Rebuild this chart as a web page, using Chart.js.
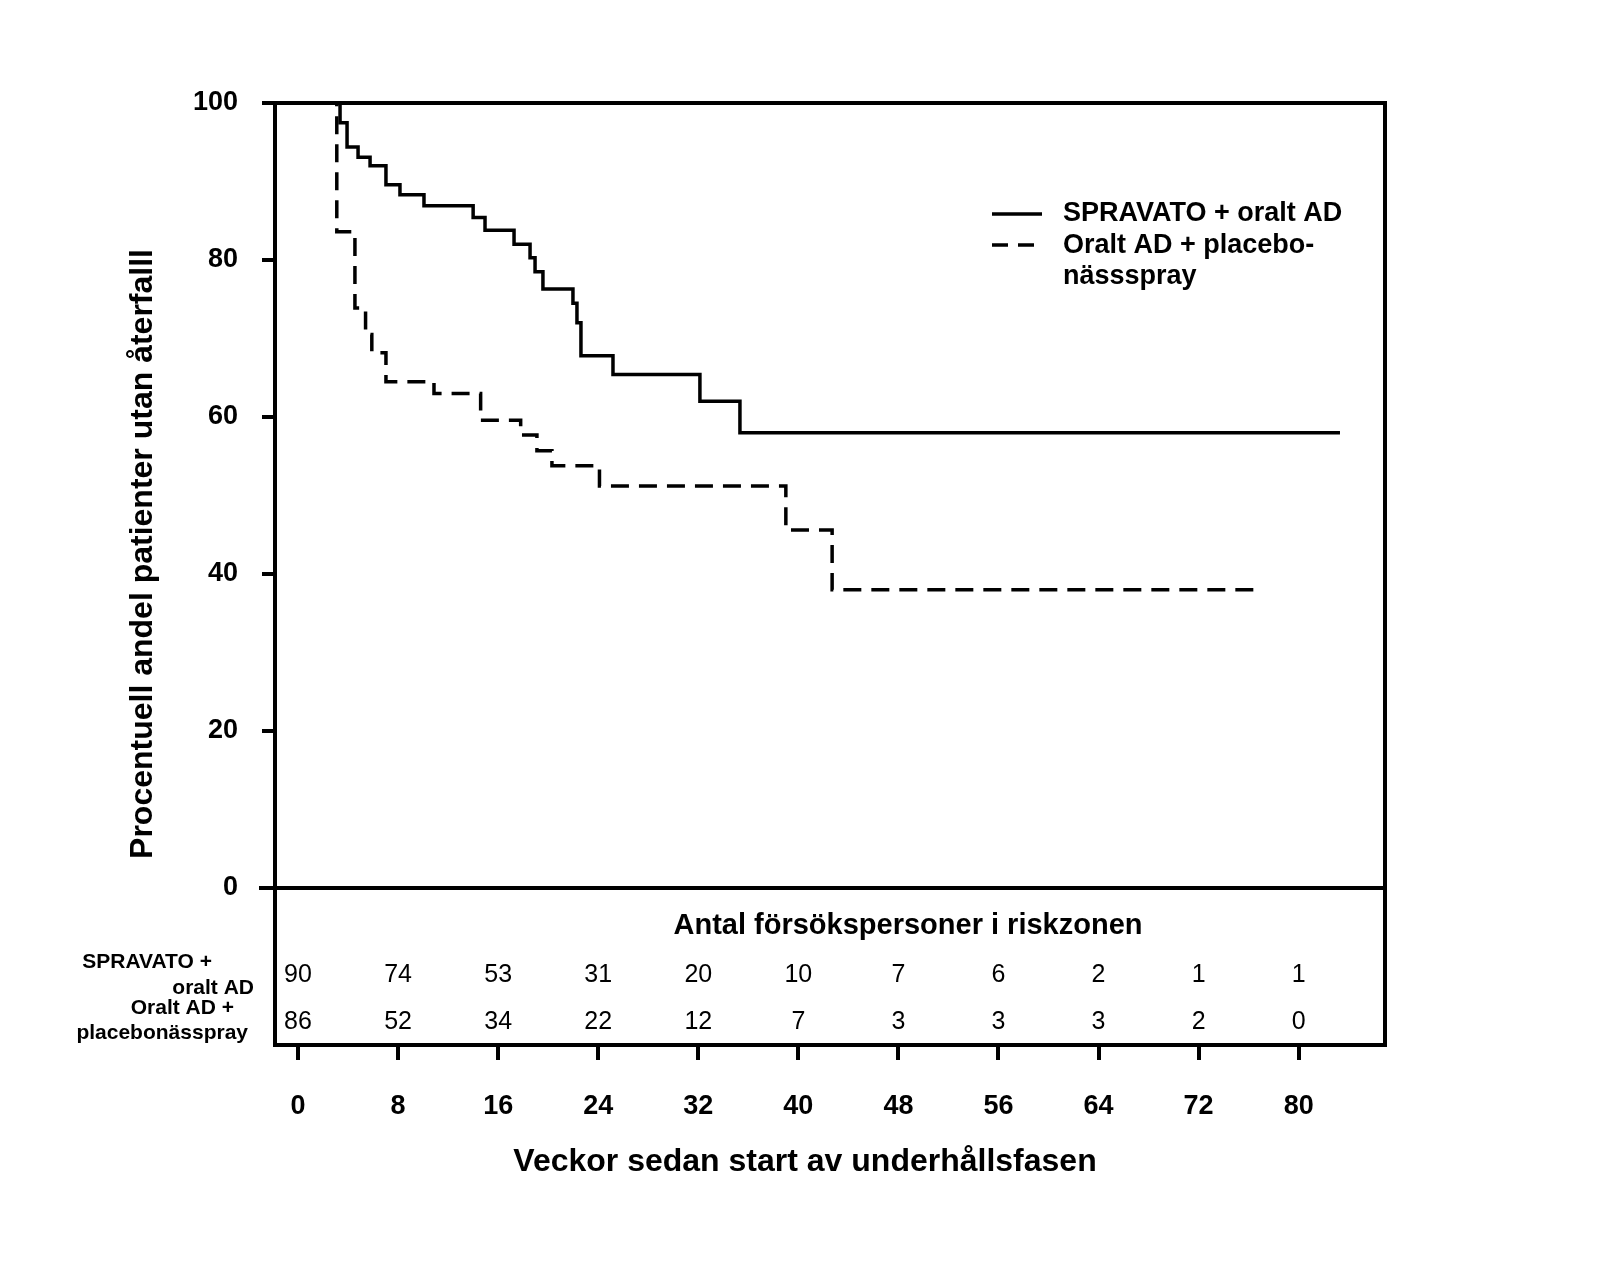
<!DOCTYPE html>
<html><head><meta charset="utf-8">
<script src="https://cdn.jsdelivr.net/npm/chart.js@4"></script>
<style>body{margin:0;background:#fff}</style></head>
<body><canvas id="c" width="1606" height="1268"></canvas>
<script>
const spravatoWeeks = [2.96,3.36,3.92,4.8,5.76,7.03,8.15,10.07,14.0,14.95,17.27,18.55,18.95,19.58,21.98,22.3,22.62,25.18,32.13,35.33,83.3];
const spravatoSurv  = [100,97.5,94.4,93.1,92,89.6,88.3,86.9,85.4,83.8,82,80.3,78.5,76.3,74.5,72,67.8,65.4,62,58,58];
const placeboWeeks = [1.92,3.1,4.55,5.4,5.9,7.03,10.87,14.6,17.8,19.1,20.3,24.1,39.0,42.7,76.5];
const placeboSurv  = [100,83.6,73.9,70.5,68.2,64.5,63,59.6,57.7,55.7,53.8,51.2,45.6,38,38];
const riskWeeks = [0,8,16,24,32,40,48,56,64,72,80];
const riskSpravato = [90,74,53,31,20,10,7,6,2,1,1];
const riskPlacebo = [86,52,34,22,12,7,3,3,3,2,0];
const yTicks = [0,20,40,60,80,100];
const F = '"Liberation Sans", Arial, sans-serif';
const pts = (xs,ys)=>xs.map((x,i)=>({x,y:ys[i]}));
const deco = {id:'deco', afterDraw(ch){
  const c=ch.ctx, a=ch.chartArea, xs=ch.scales.x, ys=ch.scales.y;
  c.save(); c.strokeStyle='#000'; c.lineWidth=4;
  c.strokeRect(a.left,a.top,a.right-a.left,a.bottom-a.top);
  const y0=ys.getPixelForValue(0);
  c.beginPath(); c.moveTo(a.left-16,y0); c.lineTo(a.right,y0); c.stroke();
  c.fillStyle='#000'; c.textAlign='center'; c.textBaseline='middle';
  c.font='bold 29px '+F; c.fillText('Antal försökspersoner i riskzonen',908,926);
  c.font='25px '+F;
  riskWeeks.forEach((w,i)=>{const px=xs.getPixelForValue(w);
    c.fillText(riskSpravato[i],px,975); c.fillText(riskPlacebo[i],px,1022);});
  c.font='bold 21px '+F; c.textAlign='right';
  c.fillText('SPRAVATO +',212,962); c.fillText('oralt AD',254,988);
  c.fillText('Oralt AD +',234,1008); c.fillText('placebonässpray',248,1033);
  // legend
  c.lineWidth=3.5;
  c.beginPath(); c.moveTo(992,214); c.lineTo(1042,214); c.stroke();
  c.setLineDash([16,10]); c.beginPath(); c.moveTo(992,245); c.lineTo(1044,245); c.stroke(); c.setLineDash([]);
  c.textAlign='left'; c.font='bold 27px '+F;
  c.fillText('SPRAVATO + oralt AD',1063,214);
  c.fillText('Oralt AD + placebo-',1063,246);
  c.fillText('nässspray',1063,277);
  c.textAlign='center'; c.font='bold 32px '+F;
  c.fillText('Veckor sedan start av underhållsfasen',805,1162);
  c.translate(143,554); c.rotate(-Math.PI/2);
  c.font='bold 32px '+F; c.fillText('Procentuell andel patienter utan återfalll',0,0);
  c.restore();
}};
new Chart(document.getElementById('c'),{
  type:'line',
  data:{datasets:[
    {data:pts(spravatoWeeks,spravatoSurv),stepped:true,borderColor:'#000',borderWidth:3.5,pointRadius:0,fill:false},
    {data:pts(placeboWeeks,placeboSurv),stepped:true,borderColor:'#000',borderWidth:3.5,borderDash:[18,10],pointRadius:0,fill:false}
  ]},
  options:{responsive:false,devicePixelRatio:1,animation:false,
    layout:{padding:{left:0,top:103,right:221,bottom:0}},
    plugins:{legend:{display:false},tooltip:{enabled:false}},
    scales:{
      x:{type:'linear',min:-1.84,max:86.9,
        afterBuildTicks:s=>{s.ticks=riskWeeks.map(v=>({value:v}));},
        afterFit:s=>{s.height=223;},
        grid:{drawOnChartArea:false,drawTicks:true,tickLength:15,color:'#000',lineWidth:4},
        border:{color:'#000',width:4},
        ticks:{color:'#000',font:{family:F,size:27,weight:'bold'},padding:30,maxRotation:0}},
      y:{min:-20,max:100,
        afterBuildTicks:s=>{s.ticks=yTicks.map(v=>({value:v}));},
        afterFit:s=>{s.width=275;},
        grid:{drawOnChartArea:false,drawTicks:true,tickLength:13,color:'#000',lineWidth:4},
        border:{color:'#000',width:4},
        ticks:{color:'#000',font:{family:F,size:27,weight:'bold'},padding:24}}
    }},
  plugins:[deco]
});
</script></body></html>
